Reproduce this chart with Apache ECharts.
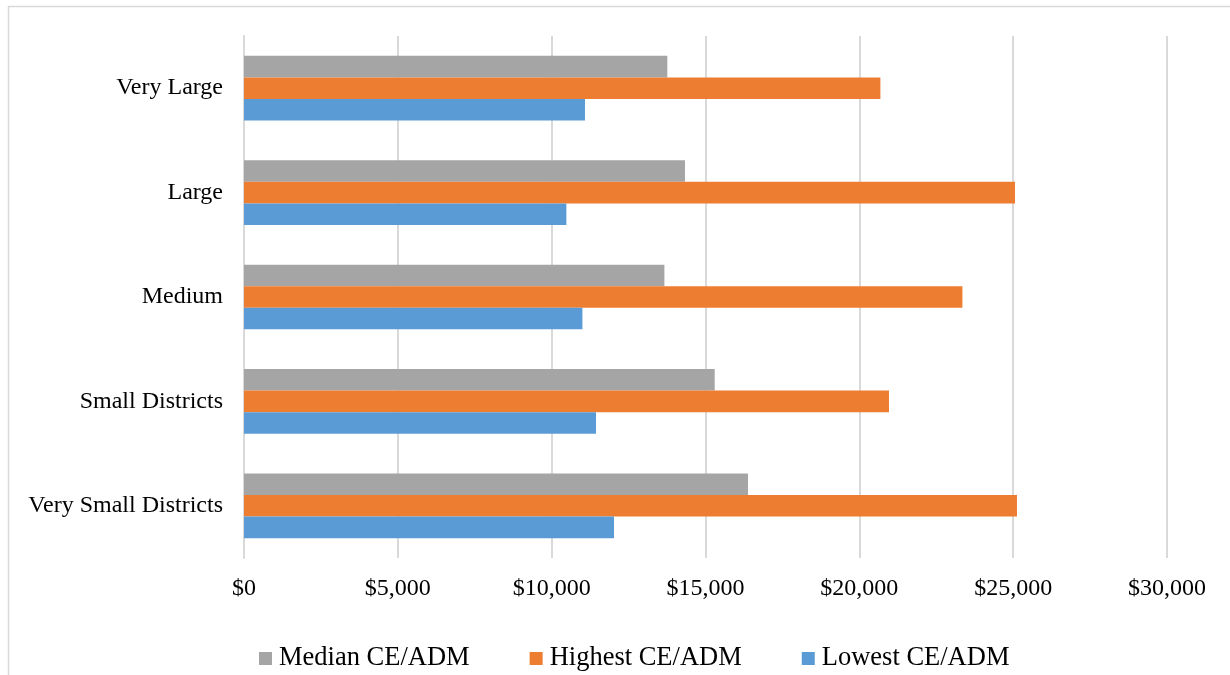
<!DOCTYPE html>
<html>
<head>
<meta charset="utf-8">
<script src="https://cdn.jsdelivr.net/npm/echarts@6/dist/echarts.min.js"></script>
<style>
  html, body { margin: 0; padding: 0; background: #fff; }
  #chart { width: 1230px; height: 675px; }
</style>
</head>
<body>
<div id="chart"></div>
<script>
// District size groups, top to bottom
const categories = ['Very Large', 'Large', 'Medium', 'Small Districts', 'Very Small Districts'];

// Current expense per ADM, in dollars
const medianValues  = [13760, 14333, 13664, 15299, 16381];
const highestValues = [20685, 25060, 23350, 20964, 25124];
const lowestValues  = [11083, 10478, 10999, 11441, 12026];

const seriesNames = ['Median CE/ADM', 'Highest CE/ADM', 'Lowest CE/ADM'];
const seriesColors = ['#A5A5A5', '#ED7D31', '#5B9BD5'];

const xTickStep = 5000;
const xMax = 30000;

const font = '"Liberation Serif", "Times New Roman", serif';

const chart = echarts.init(document.getElementById('chart'), null, { renderer: 'canvas' });

const seriesData = [medianValues, highestValues, lowestValues];

chart.setOption({
  animation: false,
  backgroundColor: '#ffffff',
  graphic: [{
    type: 'rect',
    shape: { x: 8.5, y: 6.5, width: 1240, height: 700 },
    style: { fill: 'none', stroke: '#D9D9D9', lineWidth: 1.5 },
    silent: true
  }],
  grid: { left: 244, right: 63, top: 36, bottom: 117 },
  legend: {
    bottom: -2,
    left: 254,
    itemWidth: 13,
    itemHeight: 13,
    itemGap: 60,
    icon: 'rect',
    textStyle: { fontFamily: font, fontSize: 26.5, color: '#000', padding: [0, 0, 0, 2] },
    data: seriesNames
  },
  xAxis: {
    type: 'value',
    min: 0,
    max: xMax,
    interval: xTickStep,
    axisLine: { show: false },
    axisTick: { show: false },
    splitLine: { show: true, lineStyle: { color: '#D9D9D9', width: 2 } },
    axisLabel: {
      margin: 19,
      fontFamily: font,
      fontSize: 24,
      color: '#000',
      formatter: v => '$' + v.toLocaleString('en-US')
    }
  },
  yAxis: {
    type: 'category',
    inverse: true,
    data: categories,
    axisLine: { show: true, lineStyle: { color: '#D9D9D9', width: 2 } },
    axisTick: { show: false },
    axisLabel: {
      margin: 21,
      fontFamily: font,
      fontSize: 24,
      color: '#000',
      padding: [6, 0, 0, 0]
    }
  },
  series: seriesNames.map((name, i) => ({
    name: name,
    type: 'bar',
    data: seriesData[i],
    barGap: '0%',
    barCategoryGap: '38%',
    itemStyle: { color: seriesColors[i] }
  }))
});
</script>
</body>
</html>
